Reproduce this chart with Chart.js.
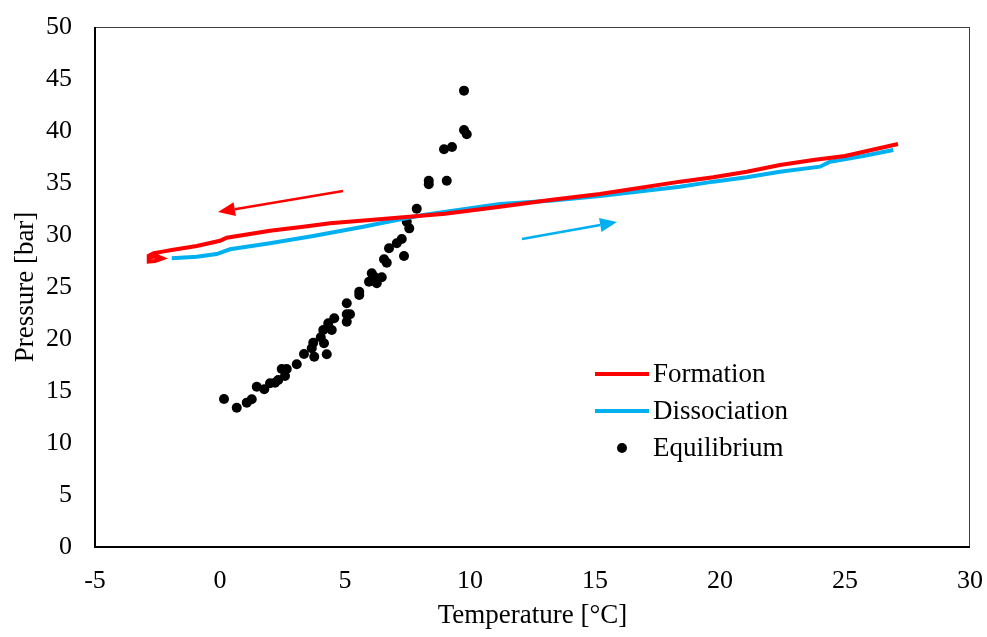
<!DOCTYPE html>
<html lang="en">
<head>
    <meta charset="UTF-8">
    <title>Hydrate P-T</title>
    <script src="https://cdn.jsdelivr.net/npm/chart.js"></script>
    <style>
        body { margin: 0; background: #fff; }
    </style>
</head>
<body>
    <canvas id="ptChart" width="987" height="637"></canvas>
    <script>
        // formation run (cooling)
        const formationT = [27.12, 25.0, 23.73, 22.4, 21.07, 19.73, 18.4, 15.2, 13.2, 11.2, 9.0, 7.33, 6.0, 4.4, 3.33, 2.0, 0.27, 0.0, -0.93, -1.93, -2.3, -2.65, -2.85, -2.85, -2.6, -2.3, -2.5, -2.8];
        const formationP = [38.75, 37.6, 37.21, 36.73, 36.09, 35.55, 35.13, 33.94, 33.37, 32.72, 32.05, 31.7, 31.44, 31.12, 30.8, 30.41, 29.74, 29.45, 28.94, 28.56, 28.4, 28.25, 28.0, 27.45, 27.5, 27.75, 27.95, 27.85];

        // dissociation run (heating)
        const dissociationT = [-1.93, -0.93, -0.13, 0.4, 2.0, 3.73, 5.73, 7.07, 8.13, 11.2, 13.2, 15.2, 18.4, 19.73, 21.07, 22.4, 24.0, 24.4, 25.73, 26.93];
        const dissociationP = [27.76, 27.91, 28.17, 28.63, 29.2, 29.9, 30.8, 31.44, 31.92, 32.98, 33.3, 33.75, 34.64, 35.13, 35.55, 36.09, 36.57, 37.05, 37.6, 38.17];

        // equilibrium points
        const equilibriumT = [0.16, 0.67, 1.07, 1.27, 1.47, 1.77, 2.0, 2.2, 2.33, 2.6, 2.47, 2.67, 3.07, 3.36, 3.73, 3.67, 3.77, 4.27, 4.16, 4.03, 4.13, 4.33, 4.47, 4.57, 5.07, 5.07, 5.2, 5.07, 5.57, 5.57, 5.96, 6.07, 6.27, 6.47, 6.17, 6.56, 6.67, 6.76, 7.07, 7.27, 7.36, 7.47, 7.57, 7.87, 8.35, 8.35, 9.07, 8.96, 9.28, 9.76, 9.87, 9.76];
        const equilibriumP = [14.23, 13.39, 13.88, 14.2, 15.41, 15.16, 15.74, 15.8, 16.06, 16.44, 17.12, 17.12, 17.57, 18.56, 19.64, 19.11, 18.3, 18.53, 19.59, 20.16, 20.87, 21.51, 20.87, 21.99, 23.43, 22.38, 22.38, 21.66, 24.55, 24.23, 25.51, 26.32, 25.36, 25.93, 25.99, 27.66, 27.34, 28.72, 29.2, 29.62, 27.98, 31.28, 30.64, 32.53, 35.22, 34.88, 35.22, 38.24, 38.46, 40.1, 39.68, 43.88];

        // direction arrows [fromT, fromP, toT, toP]
        const formationArrow = [4.92, 34.23, -0.08, 32.21];
        const dissociationArrow = [12.08, 29.62, 15.88, 31.25];

        const seriesNames = ['Formation', 'Dissociation', 'Equilibrium'];
        const xTicks = [-5, 0, 5, 10, 15, 20, 25, 30];
        const yTicks = [0, 5, 10, 15, 20, 25, 30, 35, 40, 45, 50];

        const RED = '#FF0000';
        const BLUE = '#00B0F0';
        const FONT = 'Liberation Serif';

        const toPoints = (xs, ys) => xs.map((x, i) => ({ x: x, y: ys[i] }));

        const framePlugin = {
            id: 'frame',
            afterDatasetsDraw(chart) {
                const { ctx, chartArea: a } = chart;
                ctx.save();
                ctx.strokeStyle = '#404040';
                ctx.lineWidth = 1;
                ctx.strokeRect(a.left + 0.5, a.top + 0.5, a.right - a.left - 1, a.bottom - a.top - 1);
                ctx.strokeStyle = '#000';
                ctx.lineWidth = 2;
                ctx.beginPath();
                ctx.moveTo(a.left, a.top);
                ctx.lineTo(a.left, a.bottom);
                ctx.lineTo(a.right, a.bottom);
                ctx.stroke();
                ctx.restore();
            }
        };

        function drawArrow(chart, arr, color) {
            const { ctx, scales } = chart;
            const x1 = scales.x.getPixelForValue(arr[0]);
            const y1 = scales.y.getPixelForValue(arr[1]);
            const x2 = scales.x.getPixelForValue(arr[2]);
            const y2 = scales.y.getPixelForValue(arr[3]);
            const ang = Math.atan2(y2 - y1, x2 - x1);
            const len = 17, half = 7;
            const bx = x2 - len * Math.cos(ang);
            const by = y2 - len * Math.sin(ang);
            ctx.save();
            ctx.strokeStyle = color;
            ctx.fillStyle = color;
            ctx.lineWidth = 2.5;
            ctx.beginPath();
            ctx.moveTo(x1, y1);
            ctx.lineTo(bx, by);
            ctx.stroke();
            ctx.beginPath();
            ctx.moveTo(x2, y2);
            ctx.lineTo(bx - half * Math.sin(ang), by + half * Math.cos(ang));
            ctx.lineTo(bx + half * Math.sin(ang), by - half * Math.cos(ang));
            ctx.closePath();
            ctx.fill();
            ctx.restore();
        }

        const arrowPlugin = {
            id: 'arrows',
            afterDatasetsDraw(chart) {
                drawArrow(chart, formationArrow, RED);
                drawArrow(chart, dissociationArrow, BLUE);
            }
        };

        // legend sits inside the plot, lower right
        const legendPlugin = {
            id: 'innerLegend',
            afterDraw(chart) {
                const { ctx, chartArea: a } = chart;
                const x0 = a.left + 500;
                const rows = [a.top + 347, a.top + 384, a.top + 421];
                ctx.save();
                ctx.font = '27px "' + FONT + '"';
                ctx.textBaseline = 'middle';
                ctx.fillStyle = '#000';
                ctx.lineWidth = 4;
                ctx.strokeStyle = RED;
                ctx.beginPath(); ctx.moveTo(x0, rows[0]); ctx.lineTo(x0 + 54, rows[0]); ctx.stroke();
                ctx.strokeStyle = BLUE;
                ctx.beginPath(); ctx.moveTo(x0, rows[1]); ctx.lineTo(x0 + 54, rows[1]); ctx.stroke();
                ctx.beginPath(); ctx.arc(x0 + 27, rows[2], 5, 0, Math.PI * 2); ctx.fill();
                seriesNames.forEach((n, i) => ctx.fillText(n, x0 + 58, rows[i] + 1));
                ctx.restore();
            }
        };

        const tickFont = { family: FONT, size: 26 };
        const titleFont = { family: FONT, size: 27 };

        new Chart(document.getElementById('ptChart').getContext('2d'), {
            type: 'scatter',
            data: {
                datasets: [{
                    label: seriesNames[0],
                    data: toPoints(formationT, formationP),
                    showLine: true,
                    borderColor: RED,
                    borderWidth: 4,
                    pointRadius: 0,
                    tension: 0
                }, {
                    label: seriesNames[1],
                    data: toPoints(dissociationT, dissociationP),
                    showLine: true,
                    borderColor: BLUE,
                    borderWidth: 4,
                    pointRadius: 0,
                    tension: 0
                }, {
                    label: seriesNames[2],
                    data: toPoints(equilibriumT, equilibriumP),
                    showLine: false,
                    backgroundColor: '#000',
                    borderColor: '#000',
                    pointRadius: 5,
                    pointBorderWidth: 0
                }]
            },
            options: {
                responsive: false,
                animation: false,
                layout: { padding: { left: 0, top: 27, right: 17, bottom: 0 } },
                plugins: {
                    legend: { display: false },
                    tooltip: { enabled: false }
                },
                scales: {
                    x: {
                        type: 'linear',
                        min: xTicks[0],
                        max: xTicks[xTicks.length - 1],
                        afterBuildTicks: s => { s.ticks = xTicks.map(v => ({ value: v })); },
                        afterFit: s => { s.height = 90; s.paddingLeft = 0; s.paddingRight = 0; },
                        grid: { display: false, drawTicks: false },
                        border: { display: false },
                        ticks: { font: tickFont, color: '#000', padding: 19, maxRotation: 0 },
                        title: { display: true, text: 'Temperature [°C]', font: titleFont, color: '#000', padding: { top: 0, bottom: 5 } }
                    },
                    y: {
                        type: 'linear',
                        min: yTicks[0],
                        max: yTicks[yTicks.length - 1],
                        afterBuildTicks: s => { s.ticks = yTicks.map(v => ({ value: v })); },
                        afterFit: s => { s.width = 95; s.paddingTop = 0; s.paddingBottom = 0; },
                        grid: { display: false, drawTicks: false },
                        border: { display: false },
                        ticks: { font: tickFont, color: '#000', padding: 23 },
                        title: { display: true, text: 'Pressure [bar]', font: titleFont, color: '#000', padding: { top: 10, bottom: 0 } }
                    }
                }
            },
            plugins: [framePlugin, arrowPlugin, legendPlugin]
        });
    </script>
</body>
</html>
